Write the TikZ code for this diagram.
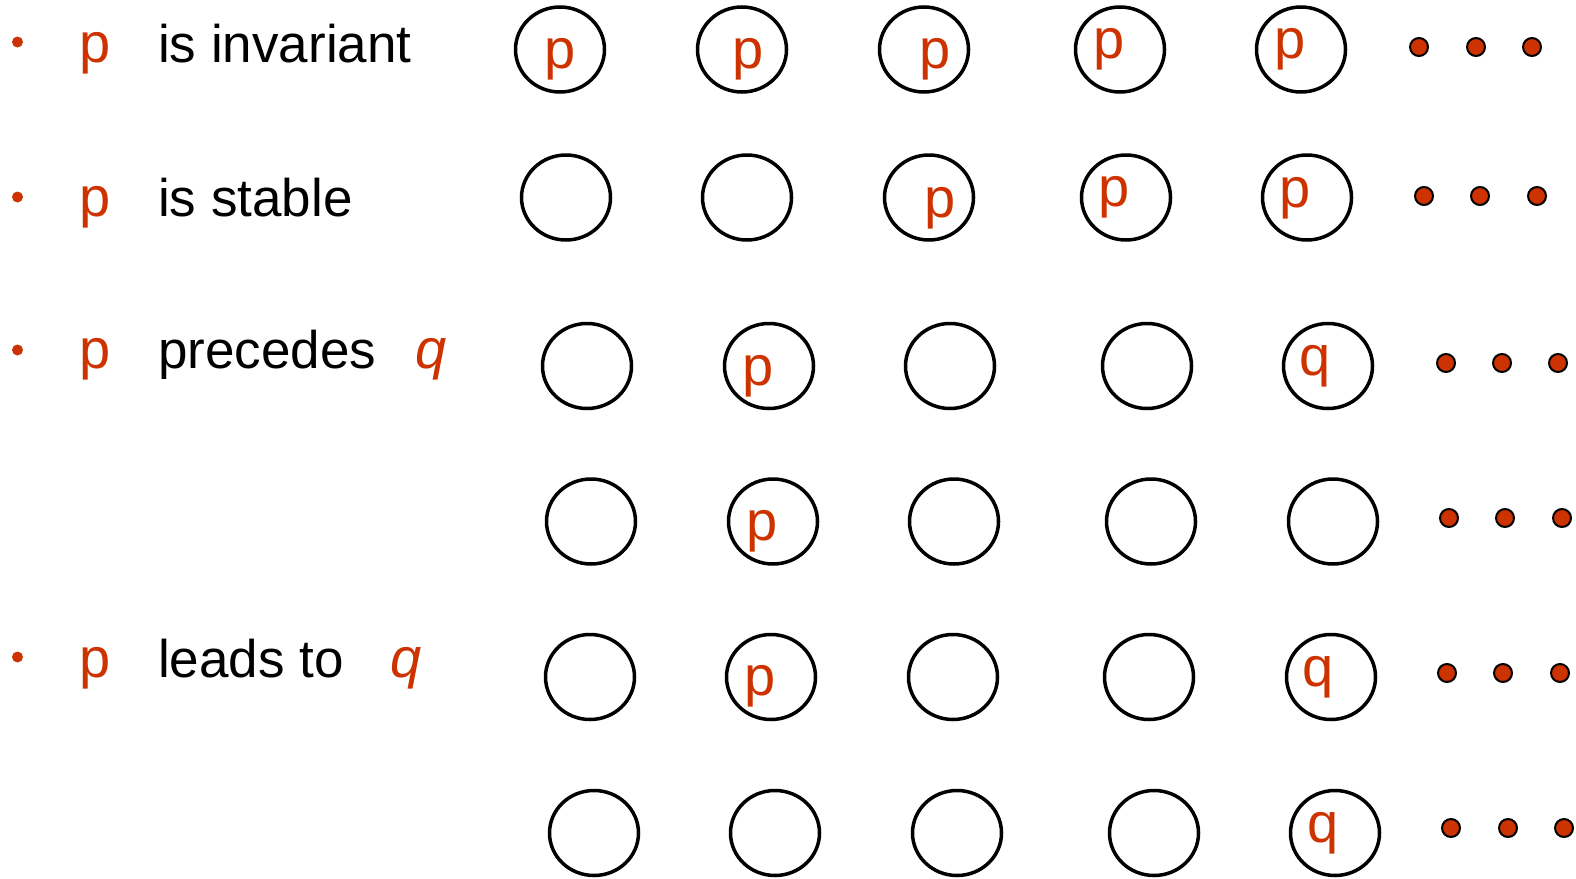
\documentclass[tikz,border=0pt]{standalone}
\usepackage{fontspec}
\setmainfont{Liberation Sans}
\usepackage{xcolor}
\usepackage{tikz}
\usetikzlibrary{shapes.geometric}

\definecolor{rust}{RGB}{204,51,0}
\newcommand{\lblfont}{\fontsize{53}{60}\selectfont}
\newcommand{\pqfont}{\fontsize{56}{64}\selectfont}

\begin{document}
\begin{tikzpicture}[
  x=1pt, y=-1pt,
  st/.style={draw, ellipse, line width=3.5pt, minimum width=89pt, minimum height=85pt, inner sep=0pt},
  lt/.style={text=rust, font=\pqfont, inner sep=0pt},
  sym/.style 2 args={label={[lt, shift={#2}]center:#1}},
  dt/.style={draw, circle, fill=rust, line width=2pt, minimum size=18pt, inner sep=0pt},
  bul/.style={circle, fill=rust, minimum size=11pt, inner sep=0pt},
  txt/.style={font=\lblfont, anchor=base west, inner sep=0pt},
  var/.style={text=rust, font=\pqfont, anchor=base, inner sep=0pt},
]
\useasboundingbox (0,0) rectangle (1576,878);

% ── left column ──
\node[bul] (b1) at (17.5,42) {};
\node[bul] (b2) at (17.5,197) {};
\node[bul] (b3) at (17.5,350) {};
\node[bul] (b5) at (17.5,657) {};
\node[var] (lp1) at (95,62) {p};
\node[var] (lp2) at (95,216) {p};
\node[var] (lp3) at (95,368) {p};
\node[var] (lp5) at (95,677) {p};
\node[txt] (t1) at (158,62) {is invariant};
\node[txt] (t2) at (158,216) {is stable};
\node[txt] (t3) at (158,368) {precedes};
\node[txt] (t5) at (158,677) {leads to};
\node[var] (lq3) at (431,368) {\itshape q};
\node[var] (lq5) at (406,677) {\itshape q};

% ── invariant ──
\node[st, sym={p}{(0,10)}]   (I1) at (560,49.5) {};
\node[st, sym={p}{(6,10)}]   (I2) at (742,49.5) {};
\node[st, sym={p}{(11,10)}]  (I3) at (924,49.5) {};
\node[st, sym={p}{(-11,0)}]  (I4) at (1120,49.5) {};
\node[st, sym={p}{(-11,0)}]  (I5) at (1301,49.5) {};
\node[dt] (I6) at (1419,47) {};
\node[dt] (I7) at (1476,47) {};
\node[dt] (I8) at (1532,47) {};

% ── stable ──
\node[st] (S1) at (566,197.5) {};
\node[st] (S2) at (747,197.5) {};
\node[st, sym={p}{(11,11)}]  (S3) at (929,197.5) {};
\node[st, sym={p}{(-12,0)}]  (S4) at (1126,197.5) {};
\node[st, sym={p}{(-12,1)}]  (S5) at (1307,197.5) {};
\node[dt] (S6) at (1424,196) {};
\node[dt] (S7) at (1480,196) {};
\node[dt] (S8) at (1537,196) {};

% ── precedes ──
\node[st] (P1) at (587,366) {};
\node[st, sym={p}{(-11,10)}] (P2) at (769,366) {};
\node[st] (P3) at (950,366) {};
\node[st] (P4) at (1147,366) {};
\node[st, sym={q}{(-13,0)}]  (P5) at (1328,366) {};
\node[dt] (P6) at (1446,363) {};
\node[dt] (P7) at (1502,363) {};
\node[dt] (P8) at (1558,363) {};

\node[st] (Q1) at (591,521.5) {};
\node[st, sym={p}{(-11,10)}] (Q2) at (773,521.5) {};
\node[st] (Q3) at (954,521.5) {};
\node[st] (Q4) at (1151,521.5) {};
\node[st] (Q5) at (1333,521.5) {};
\node[dt] (Q6) at (1449,518) {};
\node[dt] (Q7) at (1505,518) {};
\node[dt] (Q8) at (1562,518) {};

% ── leads to ──
\node[st] (L1) at (590,677) {};
\node[st, sym={p}{(-11,9)}]  (L2) at (771,677) {};
\node[st] (L3) at (953,677) {};
\node[st] (L4) at (1149,677) {};
\node[st, sym={q}{(-13,0)}]  (L5) at (1331,677) {};
\node[dt] (L6) at (1447,673) {};
\node[dt] (L7) at (1503,673) {};
\node[dt] (L8) at (1560,673) {};

\node[st] (M1) at (594,833) {};
\node[st] (M2) at (775,833) {};
\node[st] (M3) at (957,833) {};
\node[st] (M4) at (1154,833) {};
\node[st, sym={q}{(-12,0)}]  (M5) at (1335,833) {};
\node[dt] (M6) at (1451,828) {};
\node[dt] (M7) at (1508,828) {};
\node[dt] (M8) at (1564,828) {};
\end{tikzpicture}
\end{document}
